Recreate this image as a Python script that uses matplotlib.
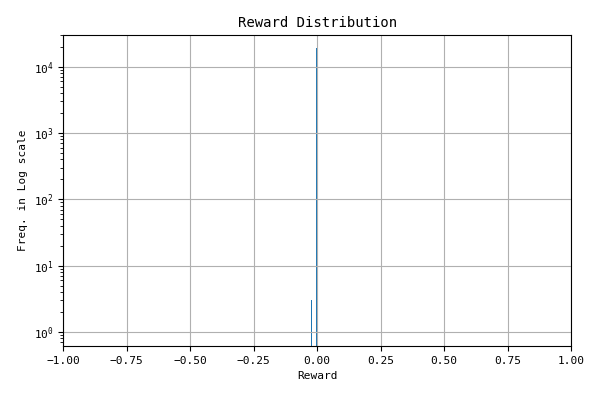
import matplotlib.pyplot as plt

plt.rcParams['font.family'] = ['DejaVu Sans Mono']
plt.rcParams['font.size'] = 8

# histogram bins (left edges) and counts
bin_left = [-0.0255, -0.0045]
bin_width = [0.004, 0.0055]
counts = [3, 19400]

fig, ax = plt.subplots(figsize=(6, 4), dpi=100)
ax.bar(bin_left, counts, width=bin_width, align='edge', color='#1f77b4', linewidth=0)
ax.set_yscale('log')
ax.set_xlim(-1, 1)
ax.set_ylim(0.615, 3.0e4)
ax.set_title('Reward Distribution', fontsize=10)
ax.set_xlabel('Reward')
ax.set_ylabel('Freq. in Log scale')
ax.grid()
fig.subplots_adjust(left=0.105, right=0.952, top=0.9125, bottom=0.135)
fig.savefig('out.png')
